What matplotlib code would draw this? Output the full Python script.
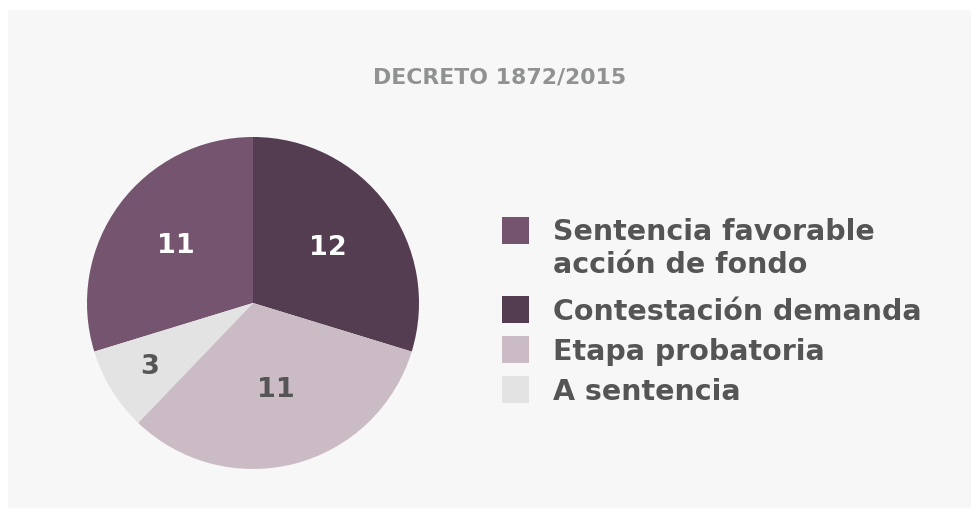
import matplotlib
matplotlib.use("Agg")
import numpy as np
from matplotlib import pyplot as plt
from matplotlib.patches import Rectangle

# data, in legend order
categories = ["Sentencia favorable\nacción de fondo", "Contestación demanda",
              "Etapa probatoria", "A sentencia"]
# slice sizes as drawn in the reference
values = [11, 11, 12, 3]
# numbers printed on the slices in the reference
value_labels = ["11", "12", "11", "3"]
colors = ["#74546e", "#543d50", "#cbbbc5", "#e3e3e3"]
label_colors = ["white", "white", "#555555", "#555555"]
title = "DECRETO 1872/2015"

W, H = 979, 516
bg = "#f7f7f7"
text_color = "#555555"
font = "DejaVu Sans"

fig = plt.figure(figsize=(W / 100, H / 100), dpi=100)
fig.patch.set_facecolor("white")
# light panel behind everything
fig.add_artist(Rectangle((8 / W, 8 / H), (W - 16) / W, (H - 18) / H,
                         transform=fig.transFigure, facecolor=bg,
                         edgecolor="none", zorder=0))

fig.text(499.5 / W, 1 - 83 / H, title, ha="center", va="baseline",
         fontsize=15.8, fontweight="bold", color="#909292", family=font)

# pie: center (253, 303), radius 166 px
cx, cy, r = 253, 303, 166
ax = fig.add_axes([(cx - r) / W, (H - cy - r) / H, 2 * r / W, 2 * r / H])

total = sum(values)
wedges, _ = ax.pie(values, colors=colors, startangle=90 + 360 * values[0] / total,
                   counterclock=False, radius=1,
                   wedgeprops=dict(linewidth=0))
ax.set_xlim(-1, 1)
ax.set_ylim(-1, 1)
ax.axis("off")

# label distance from center, as fraction of radius
label_radius = [0.58, 0.56, 0.54, 0.73]
for w, lab, col, d in zip(wedges, value_labels, label_colors, label_radius):
    mid = np.deg2rad((w.theta1 + w.theta2) / 2)
    ax.text(d * np.cos(mid), d * np.sin(mid), lab, ha="center", va="center",
            fontsize=19.5, fontweight="bold", color=col, family=font)

# legend, drawn by hand so the square sits on the first line
square_tops = [217, 296, 336, 376]
baselines = [240, 320, 360, 400]
line_step = 33
for cat, col, top, base in zip(categories, colors, square_tops, baselines):
    fig.add_artist(Rectangle((502 / W, 1 - (top + 27) / H), 27 / W, 27 / H,
                             transform=fig.transFigure, facecolor=col,
                             edgecolor="none"))
    for k, line in enumerate(cat.split("\n")):
        fig.text(553 / W, 1 - (base + k * line_step) / H, line, ha="left",
                 va="baseline", fontsize=20.5, fontweight="bold",
                 color=text_color, family=font)

fig.savefig("out.png", dpi=100, facecolor=fig.get_facecolor())
